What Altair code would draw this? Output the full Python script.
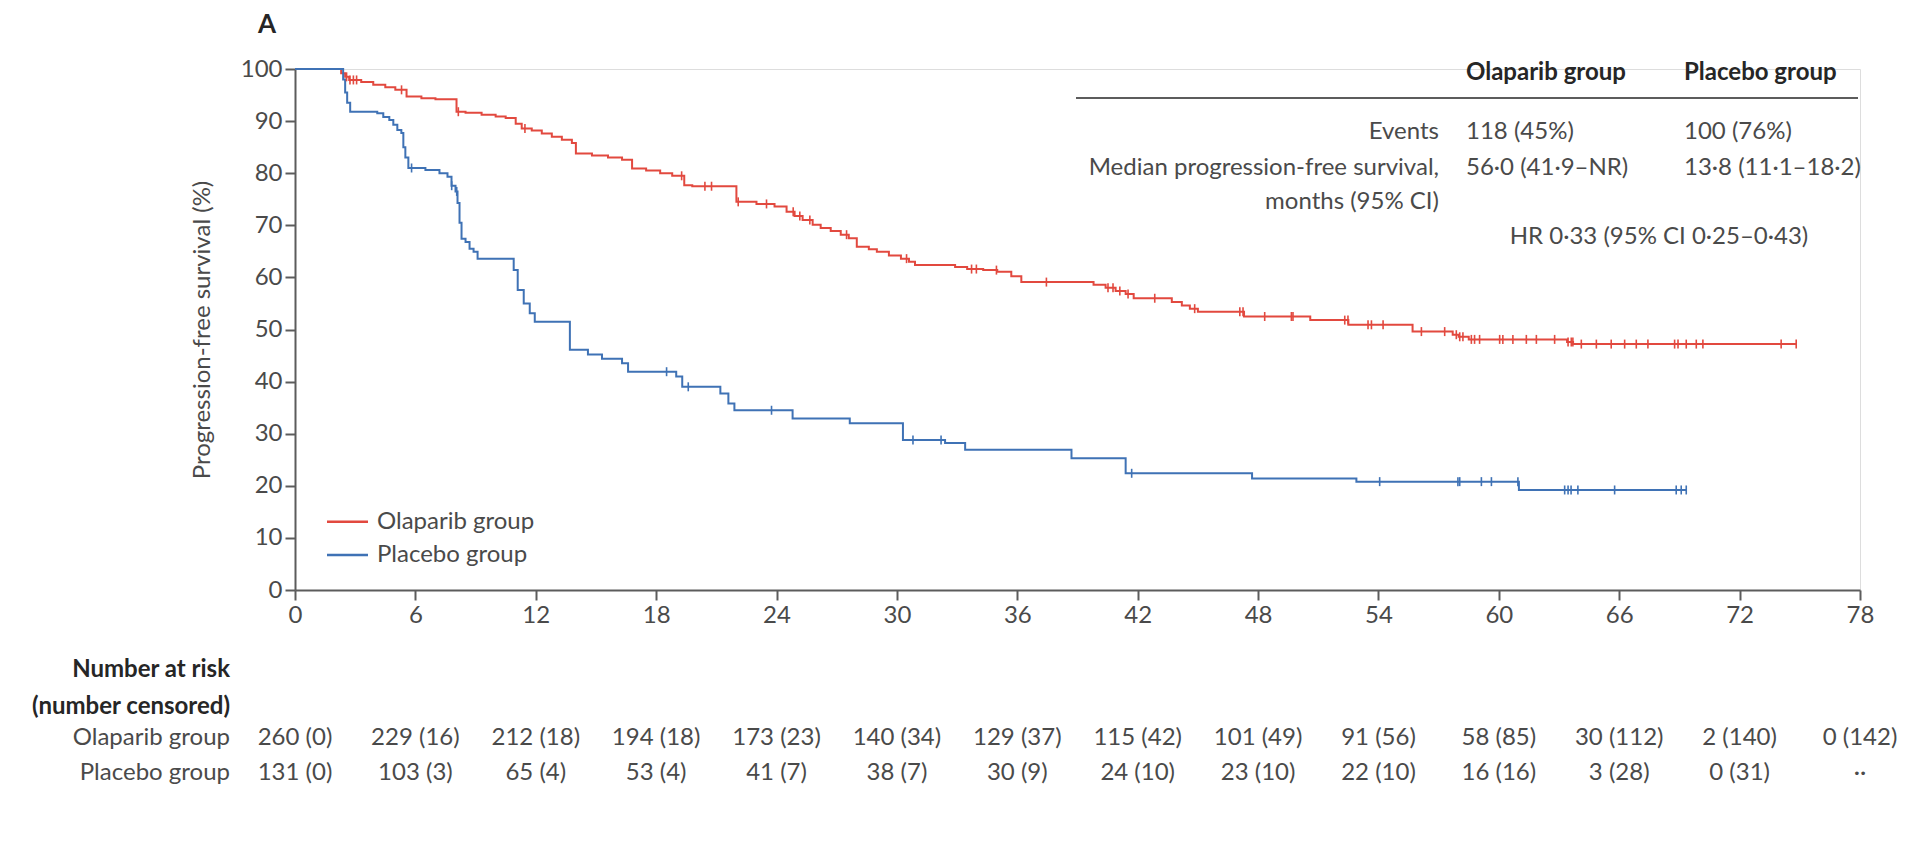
import altair as alt
import pandas as pd

# ---------------- data ----------------
groups = ["Olaparib group", "Placebo group"]

olap_t = [0, 2.3, 2.5, 2.7, 3.3, 3.9, 4.5, 5.0, 5.56, 6.3, 7.0, 8.05, 8.5, 9.3, 10.0, 10.5, 11.0, 11.3, 11.8, 12.3,
          12.8, 13.3, 13.8, 14.0, 14.8, 15.6, 16.3, 16.8, 17.5, 18.2, 18.8, 19.4, 19.8, 22.0, 23.0, 23.9, 24.5, 24.9,
          25.3, 25.8, 26.2, 26.7, 27.2, 27.6, 28.0, 28.6, 29.0, 29.6, 30.2, 30.6, 30.9, 32.9, 33.5, 34.3, 35.0, 35.7,
          36.2, 39.8, 40.4, 40.9, 41.4, 41.8, 43.7, 44.2, 44.6, 45.0, 47.3, 50.6, 52.5, 55.7, 57.7, 58.0, 58.5, 63.4,
          63.7]
olap_s = [100, 99.2, 98.5, 97.9, 97.5, 97.0, 96.5, 96.0, 94.7, 94.4, 94.2, 91.8, 91.6, 91.2, 90.9, 90.6, 89.5, 88.6,
          88.2, 87.6, 87.0, 86.4, 85.8, 83.8, 83.4, 83.0, 82.6, 80.9, 80.5, 80.0, 79.5, 77.7, 77.5, 74.5, 74.1, 73.6,
          72.6, 71.8, 71.0, 70.1, 69.5, 68.9, 68.2, 67.5, 65.9, 65.4, 64.9, 64.2, 63.6, 63.0, 62.4, 62.0, 61.6, 61.4,
          61.1, 60.2, 59.1, 58.6, 58.0, 57.4, 56.8, 56.0, 55.3, 54.6, 54.0, 53.4, 52.5, 51.8, 50.9, 49.6, 49.0, 48.6,
          48.1, 47.6, 47.2]
olap_cens = [2.57, 2.74, 2.91, 3.07, 5.31, 8.14, 11.46, 19.27, 20.43, 20.76, 22.09, 23.5, 24.83, 25.16, 25.66, 27.49,
             30.48, 33.72, 33.96, 34.96, 37.45, 40.52, 40.77, 41.11, 41.52, 42.85, 44.84, 47.09, 47.25, 48.33, 49.66,
             49.74, 52.32, 52.48, 53.48, 53.65, 54.23, 56.14, 57.3, 57.88, 58.05, 58.21, 58.63, 58.79, 59.04, 60.04,
             60.2, 60.7, 61.37, 61.87, 62.78, 63.45, 63.61, 63.69, 64.11, 64.86, 65.6, 66.27, 66.85, 67.43, 68.76,
             68.93, 69.34, 69.84, 70.17, 74.07, 74.82]

plac_t = [0, 2.4, 2.5, 2.6, 2.75, 4.1, 4.4, 4.7, 4.9, 5.1, 5.3, 5.4, 5.5, 5.65, 6.5, 7.2, 7.6, 7.8, 8.0, 8.1, 8.2, 8.3,
          8.5, 8.7, 8.9, 9.1, 10.9, 11.1, 11.4, 11.7, 11.95, 13.7, 14.6, 15.3, 16.3, 16.6, 19.0, 19.3, 21.2, 21.6,
          21.9, 24.8, 27.65, 30.3, 32.4, 33.4, 38.7, 41.4, 47.7, 52.9, 61.0]
plac_s = [100, 98.0, 95.5, 93.5, 91.8, 91.5, 90.8, 90.2, 89.3, 88.3, 87.7, 85.0, 83.0, 81.0, 80.6, 80.0, 79.3, 77.6,
          76.5, 74.3, 70.5, 67.4, 66.8, 65.5, 64.9, 63.6, 61.4, 57.6, 55.0, 53.1, 51.5, 46.1, 45.2, 44.4, 43.5, 41.9,
          41.0, 39.0, 37.7, 35.8, 34.5, 32.9, 32.0, 28.8, 28.2, 26.9, 25.3, 22.4, 21.4, 20.8, 19.2]
plac_cens = [5.81, 7.81, 8.06, 18.52, 19.6, 23.75, 30.8, 32.2, 41.7, 54.06, 57.96, 58.05, 59.13, 59.63, 60.95, 63.28,
             63.45, 63.6, 63.94, 65.77, 68.84, 69.09, 69.34]

x_ticks = [0, 6, 12, 18, 24, 30, 36, 42, 48, 54, 60, 66, 72, 78]
y_ticks = [0, 10, 20, 30, 40, 50, 60, 70, 80, 90, 100]

olap_risk = [260, 229, 212, 194, 173, 140, 129, 115, 101, 91, 58, 30, 2, 0]
olap_censored = [0, 16, 18, 18, 23, 34, 37, 42, 49, 56, 85, 112, 140, 142]
plac_risk = [131, 103, 65, 53, 41, 38, 30, 24, 23, 22, 16, 3, 0, None]
plac_censored = [0, 3, 4, 4, 7, 7, 9, 10, 10, 10, 16, 28, 31, None]

table_header = ["Olaparib group", "Placebo group"]
events = ["118 (45%)", "100 (76%)"]
medians = ["56·0 (41·9–NR)", "13·8 (11·1–18·2)"]
hr_text = "HR 0·33 (95% CI 0·25–0·43)"

# ---------------- styling ----------------
RED = "#e2493f"
BLUE = "#3f72b5"
TXT = "#4a4a4a"
DARK = "#262626"
AX = "#5c5c5c"
FONT = "Lato"
FS = 24
W, H = 1565, 521


def step_rows(group, ts, ss, end):
    rows = [{"group": group, "t": t, "s": s} for t, s in zip(ts, ss)]
    rows.append({"group": group, "t": end, "s": ss[-1]})
    return rows


def surv_at(ts, ss, x):
    v = ss[0]
    for t, s in zip(ts, ss):
        if t <= x:
            v = s
        else:
            break
    return v


curve_df = pd.DataFrame(step_rows(groups[0], olap_t, olap_s, max(olap_cens)) +
                        step_rows(groups[1], plac_t, plac_s, max(plac_cens)))
cens_df = pd.DataFrame(
    [{"group": groups[0], "t": c, "s": surv_at(olap_t, olap_s, c)} for c in olap_cens] +
    [{"group": groups[1], "t": c, "s": surv_at(plac_t, plac_s, c)} for c in plac_cens])

color = alt.Color("group:N", scale=alt.Scale(domain=groups, range=[RED, BLUE]), legend=None)

x_enc = alt.X("t:Q", scale=alt.Scale(domain=[0, 78], nice=False, zero=False),
              axis=alt.Axis(values=x_ticks, title=None, grid=False, labelFontSize=FS, labelColor=TXT,
                            labelFont=FONT, tickSize=10, tickWidth=2, tickColor=AX, domainColor=AX,
                            domainWidth=2, labelPadding=3, labelFlush=False))
y_enc = alt.Y("s:Q", scale=alt.Scale(domain=[0, 100], nice=False),
              axis=alt.Axis(values=y_ticks, title="Progression-free survival (%)", grid=False,
                            labelFontSize=FS, labelColor=TXT, labelFont=FONT, tickSize=10, tickWidth=2,
                            tickColor=AX, domainColor=AX, domainWidth=2, labelPadding=3, labelFlush=False,
                            titleFontSize=FS, titleFont=FONT, titleFontWeight="normal", titleColor=TXT,
                            titleX=-93, titleY=H / 2, titleAngle=270, titleAlign="center",
                            titleBaseline="middle"))

curves = alt.Chart(curve_df).mark_line(interpolate="step-after", strokeWidth=2).encode(
    x=x_enc, y=y_enc, color=color)
cens = alt.Chart(cens_df).mark_point(shape="M0,-1L0,1", size=81, strokeWidth=1.6, filled=False,
                                     opacity=1).encode(x="t:Q", y="s:Q", color=color)

one = pd.DataFrame({"k": [0]})


def label(text, x, y, align="left", bold=False, color=TXT, size=FS):
    return alt.Chart(one).mark_text(text=text, align=align, baseline="middle", fontSize=size,
                                    fontWeight="bold" if bold else "normal", color=color,
                                    font=FONT).encode(x=alt.value(x), y=alt.value(y))


def hline(x1, x2, y, color, width):
    return alt.Chart(one).mark_rule(color=color, strokeWidth=width).encode(
        x=alt.value(x1), x2=alt.value(x2), y=alt.value(y))


layers = [curves, cens]

# legend
layers += [hline(32, 73, 452.7, RED, 2.5), hline(32, 73, 486, BLUE, 2.5),
           label(groups[0], 82, 452.7), label(groups[1], 82, 486)]

# stats table
layers += [label(table_header[0], 1171, 4, bold=True, color=DARK),
           label(table_header[1], 1389, 4, bold=True, color=DARK),
           hline(781, 1563, 29, AX, 2),
           label("Events", 1144, 63, align="right"),
           label(events[0], 1171, 63), label(events[1], 1389, 63),
           label("Median progression-free survival,", 1144, 99, align="right"),
           label(medians[0], 1171, 99), label(medians[1], 1389, 99),
           label("months (95% CI)", 1144, 133, align="right"),
           label(hr_text, 1364, 168, align="center")]

# panel letter
layers.append(label("A", -28, -44, align="center", bold=True, color=DARK, size=26))

# number at risk
layers += [label("Number at risk", -65, 601, align="right", bold=True, color=DARK),
           label("(number censored)", -65, 638, align="right", bold=True, color=DARK),
           label(groups[0], -65, 669, align="right"),
           label(groups[1], -65, 704, align="right")]


def risk_text(n, c):
    return "··" if n is None else f"{n} ({c})"


risk_df_o = pd.DataFrame({"t": x_ticks, "txt": [risk_text(n, c) for n, c in zip(olap_risk, olap_censored)]})
risk_df_p = pd.DataFrame({"t": x_ticks, "txt": [risk_text(n, c) for n, c in zip(plac_risk, plac_censored)]})
for df, yy in [(risk_df_o, 669), (risk_df_p, 704)]:
    layers.append(alt.Chart(df).mark_text(align="center", baseline="middle", fontSize=FS, color=TXT,
                                          font=FONT).encode(x="t:Q", y=alt.value(yy), text="txt:N"))

chart = alt.layer(*layers).properties(
    width=W, height=H,
    padding={"left": 287, "top": 61, "right": 38, "bottom": 230},
    autosize=alt.AutoSizeParams(type="none"),
    background="white",
).configure_view(strokeWidth=0).configure(font=FONT)

chart.save("out.html", embed_options={"renderer": "svg", "actions": False})
